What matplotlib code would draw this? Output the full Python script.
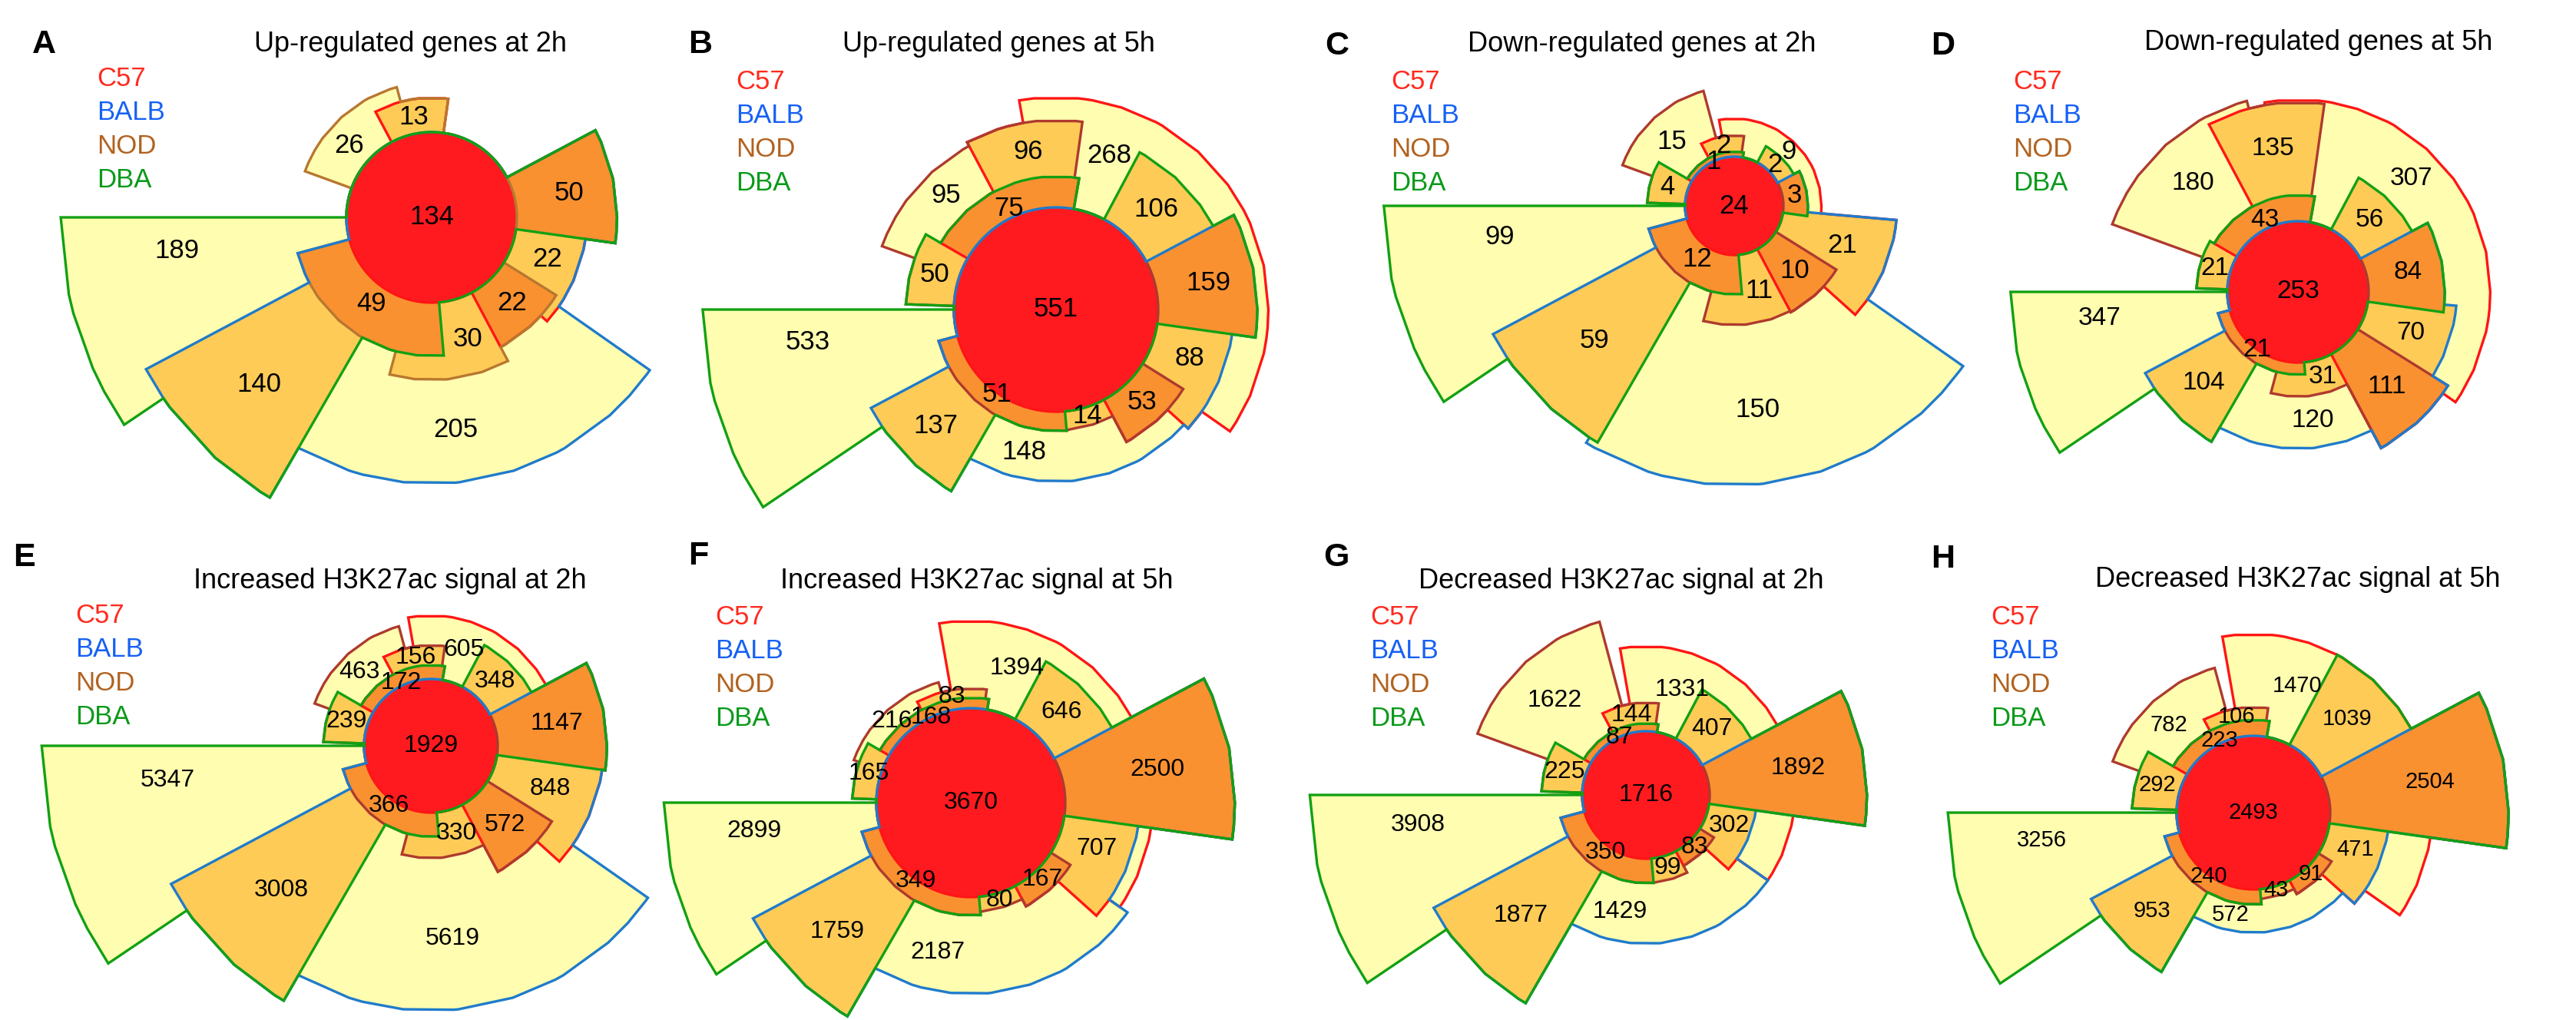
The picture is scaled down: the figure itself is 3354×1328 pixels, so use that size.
import numpy as np
import matplotlib
matplotlib.use("Agg")
import matplotlib.pyplot as plt
from matplotlib.patches import Polygon, Circle

plt.rcParams['font.family'] = ['Liberation Sans', 'DejaVu Sans']

# ---------------- data ----------------
# region order: C57-only, BALB-only, NOD-only, DBA-only, then intersections
regions = ['C', 'B', 'N', 'D', 'CB', 'CD', 'CN', 'NB', 'ND', 'BD', 'CBD', 'CNB', 'CND', 'NBD']

titles = ["Up-regulated genes at 2h", "Up-regulated genes at 5h",
          "Down-regulated genes at 2h", "Down-regulated genes at 5h",
          "Increased H3K27ac signal at 2h", "Increased H3K27ac signal at 5h",
          "Decreased H3K27ac signal at 2h", "Decreased H3K27ac signal at 5h"]
letters = list("ABCDEFGH")
set_names = ["C57", "BALB", "NOD", "DBA"]

up_2h = [0, 205, 26, 189, 22, 0, 13, 30, 0, 140, 50, 22, 0, 49]
up_5h = [268, 148, 95, 533, 88, 106, 96, 14, 50, 137, 159, 53, 75, 51]
down_2h = [9, 150, 15, 99, 21, 2, 2, 11, 4, 59, 3, 10, 1, 12]
down_5h = [307, 120, 180, 347, 70, 56, 135, 31, 21, 104, 84, 111, 43, 21]
inc_2h = [605, 5619, 463, 5347, 848, 348, 156, 330, 239, 3008, 1147, 572, 172, 366]
inc_5h = [1394, 2187, 216, 2899, 707, 646, 83, 80, 165, 1759, 2500, 167, 168, 349]
dec_2h = [1331, 1429, 1622, 3908, 302, 407, 144, 99, 225, 1877, 1892, 83, 87, 350]
dec_5h = [1470, 572, 782, 3256, 471, 1039, 106, 43, 292, 953, 2504, 91, 223, 240]
all_four = [134, 551, 24, 253, 1929, 3670, 1716, 2493]
panel_counts = [up_2h, up_5h, down_2h, down_5h, inc_2h, inc_5h, dec_2h, dec_5h]

# ---------------- layout ----------------
W, H = 3354, 1328
SPAN = {  # angular span (deg, CCW from +x) of each region around the centre
    'CBD': (-8, 28), 'CND': (80, 150), 'NBD': (195, 275), 'CNB': (298, 328),
    'CD': (28, 62), 'CN': (82, 118), 'ND': (150, 178), 'BD': (208, 240),
    'NB': (255, 298), 'CB': (318, 355),
    'C': (-35, 100), 'N': (105, 160), 'D': (180, 214), 'B': (238, 325),
}
centers = [(562, 283), (1375, 403), (2258, 268), (2992, 380),
           (561, 971), (1264, 1045), (2143, 1035), (2934, 1058)]
r0_px = [111, 133, 64, 92, 87, 123, 83, 100]
title_pos = [(535, 67), (1300, 67), (2138, 67), (3019, 65),
             (508, 766), (1272, 766), (2111, 766), (2992, 764)]
legend_pos = [(126, 112), (958, 116), (1811, 116), (2621, 116),
              (98, 811), (931, 813), (1784, 813), (2592, 813)]
letter_pos = [(42, 69), (896, 69), (1725, 71), (2514, 71),
              (17, 737), (896, 735), (1723, 737), (2514, 739)]
label_fs = [25, 25, 25, 24, 23, 23, 23, 21]

FILL = {4: '#FF1A1F', 3: '#F99131', 2: '#FECB57', 1: '#FFFDB0'}
LINE_C = {'C': '#FF1515', 'B': '#1F7BCB', 'D': '#12A012'}
NOD_LINE = ['#B8772F'] + ['#AE3A2E'] * 7
LEG_C = ['#FF2A1E', '#1560F5', '#B2621F', '#0A9A1A']


def covers(span, m):
    a, b = span
    return ((m - a) % 360) < (b - a)


def solve_radius(A, rin, d):
    rin = np.asarray(rin, float)
    d = np.asarray(d, float)
    if A <= 0:
        return rin.min()
    lo = rin.min()
    hi = rin.max() + np.sqrt(2 * A / d.sum()) + 1
    for _ in range(200):
        mid = 0.5 * (lo + hi)
        f = np.sum(d / 2 * np.clip(mid ** 2 - rin ** 2, 0, None))
        if f < A:
            lo = mid
        else:
            hi = mid
    return 0.5 * (lo + hi)


def arc(rho, a, b, r0):
    step = 2.0 if rho <= r0 * 1.0005 else 12.0
    ts = [a]
    k = np.floor(a / step) + 1
    while k * step < b:
        if k * step > a:
            ts.append(k * step)
        k += 1
    ts.append(b)
    ts = np.radians(ts)
    return [(rho * np.cos(t), rho * np.sin(t)) for t in ts]


def build(counts, full):
    cnt = dict(zip(regions, counts))
    r0 = np.sqrt(full / np.pi)
    bps = sorted(set([a % 360 for sp in SPAN.values() for a in sp]))
    elems = []
    for i in range(len(bps)):
        a = bps[i]
        b = bps[(i + 1) % len(bps)]
        if b <= a:
            b += 360
        elems.append((a, b))
    cur = np.full(len(elems), r0)
    pieces = {}
    elem_pieces = [[] for _ in elems]
    for lvl in (3, 2, 1):
        for name in regions:
            if len(name) != lvl:
                continue
            sp = SPAN[name]
            idx = [i for i, (a, b) in enumerate(elems) if covers(sp, ((a + b) / 2) % 360)]
            idx.sort(key=lambda i: (elems[i][0] - sp[0]) % 360)
            d = [np.radians(elems[i][1] - elems[i][0]) for i in idx]
            R = solve_radius(cnt[name], cur[idx], d)
            pl = []
            for i in idx:
                ro = max(R, cur[i])
                pl.append((i, cur[i], ro))
                elem_pieces[i].append((name, cur[i], ro))
                cur[i] = ro
            pieces[name] = pl
    return r0, elems, pieces, elem_pieces, cnt


fig = plt.figure(figsize=(W / 100, H / 100), dpi=100)
ax = fig.add_axes([0, 0, 1, 1])
ax.set_xlim(0, W)
ax.set_ylim(H, 0)
ax.axis('off')

for p in range(8):
    r0, elems, pieces, elem_pieces, cnt = build(panel_counts[p], all_four[p])
    cx, cy = centers[p]
    s = r0_px[p] / r0

    def tr(pts):
        return [(cx + s * x, cy - s * y) for x, y in pts]

    # region fills
    for name in regions:
        pl = pieces[name]
        outer, inner = [], []
        for (i, ri, ro) in pl:
            a, b = elems[i]
            outer += arc(ro, a, b, r0)
            inner += arc(ri, a, b, r0)
        poly = outer + inner[::-1]
        ax.add_patch(Polygon(tr(poly), closed=True, fc=FILL[len(name)], ec='none', zorder=1))
    ax.add_patch(Circle((cx, cy), r0_px[p], fc=FILL[4], ec='none', zorder=2))

    # set outlines
    for k, sk in enumerate(['C', 'N', 'B', 'D']):
        pts = []
        for i, (a, b) in enumerate(elems):
            rr = r0
            for (name, ri, ro) in elem_pieces[i]:
                if sk in name:
                    rr = max(rr, ro)
            pts += arc(rr, a, b, r0)
        col = NOD_LINE[p] if sk == 'N' else LINE_C[sk]
        ax.add_patch(Polygon(tr(pts), closed=True, fc='none', ec=col, lw=2.4,
                             joinstyle='miter', zorder=3 + k * 0.1))

    # labels
    for name in regions:
        if cnt[name] <= 0:
            continue
        groups = []
        for (i, ri, ro) in pieces[name]:
            a, b = elems[i]
            if groups and abs(groups[-1][2] - ri) < 1e-9 and abs(groups[-1][3] - ro) < 1e-9 \
                    and abs((groups[-1][1] - a) % 360) < 1e-9:
                groups[-1][1] = groups[-1][1] + (b - a)
            else:
                groups.append([a, b, ri, ro])
        best, barea = None, -1
        for g in groups:
            a, b, ri, ro = g
            dd = np.radians(b - a)
            area = dd / 2 * (ro ** 2 - ri ** 2)
            if area > barea:
                barea, best = area, g
        a, b, ri, ro = best
        dd = np.radians(b - a)
        if ro - ri < 1e-9:
            continue
        rc = (2 / 3) * (ro ** 3 - ri ** 3) / (ro ** 2 - ri ** 2) * np.sin(dd / 2) / (dd / 2)
        tm = np.radians((a + b) / 2)
        x, y = rc * np.cos(tm), rc * np.sin(tm)
        ax.text(cx + s * x, cy - s * y, str(cnt[name]), fontsize=label_fs[p],
                ha='center', va='center', color='black', zorder=6)
    ax.text(cx, cy, str(all_four[p]), fontsize=label_fs[p], ha='center', va='center',
            color='black', zorder=6)

    # title, legend, letter
    tx, ty = title_pos[p]
    ax.text(tx, ty, titles[p], fontsize=26, ha='center', va='baseline', color='black', zorder=7)
    lx, ly = legend_pos[p]
    for k, nm in enumerate(set_names):
        ax.text(lx, ly + 44 * k, nm, fontsize=25, ha='left', va='baseline', color=LEG_C[k], zorder=7)
    px_, py_ = letter_pos[p]
    ax.text(px_, py_, letters[p], fontsize=31, fontweight='bold', ha='left', va='baseline',
            color='black', zorder=7)

fig.savefig('out.png', dpi=100)
